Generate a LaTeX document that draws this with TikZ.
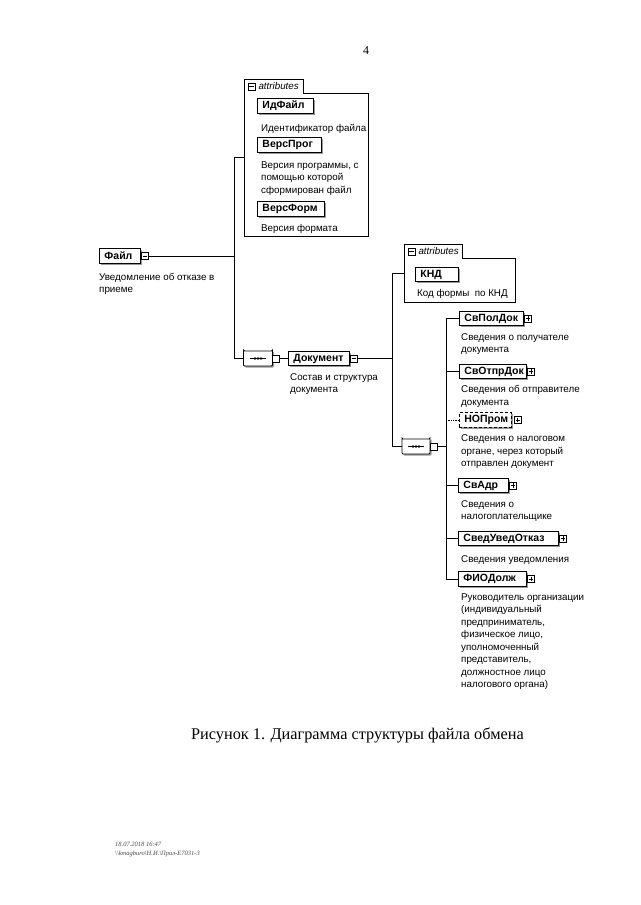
\documentclass[tikz,border=0pt]{standalone}
\usepackage{fontspec}
\setmainfont{Liberation Sans}
\newfontfamily\serif{Liberation Serif}
\usetikzlibrary{shapes.misc,shadows,calc}
\begin{document}
\begin{tikzpicture}[x=1pt,y=-1pt,
  conn/.style={line width=0.8pt},
  elem/.style={draw, line width=0.9pt, fill=white, font=\fontsize{10.5}{12}\bfseries\selectfont,
    minimum height=14.5pt, inner xsep=5pt, inner ysep=0pt, anchor=west, align=left,
    drop shadow={shadow xshift=1.6pt, shadow yshift=-1.6pt, fill=black!40, opacity=1}},
  bw/.style={text width=#1},
  optelem/.style={elem, densely dashed, line width=0.7pt},
  desc/.style={anchor=north west, yshift=8.75pt, align=left, inner sep=0pt,
    font=\fontsize{9.8}{12.5}\selectfont, execute at begin node=\strut},
  sq/.style={draw, line width=0.6pt, fill=white, minimum size=7pt, inner sep=0pt},
  pbox/.style={sq, path picture={
     \draw[line width=0.6pt] ([xshift=1.3pt]path picture bounding box.west) -- ([xshift=-1.3pt]path picture bounding box.east);
     \draw[line width=0.6pt] ([yshift=-1.3pt]path picture bounding box.north) -- ([yshift=1.3pt]path picture bounding box.south);}},
  mbox/.style={sq, path picture={
     \draw[line width=0.6pt] ([xshift=1.3pt]path picture bounding box.west) -- ([xshift=-1.3pt]path picture bounding box.east);}},
  seq/.style={chamfered rectangle, chamfered rectangle xsep=3.5pt, chamfered rectangle ysep=3.5pt,
    draw, line width=0.9pt, fill=white, rounded corners=1pt, minimum height=15pt, inner sep=0pt,
    drop shadow={shadow xshift=1.6pt, shadow yshift=-1.6pt, fill=black!40, opacity=1}},
  attrtab/.style={anchor=west, inner sep=0pt, font=\fontsize{9.8}{10}\itshape\selectfont},
  attrline/.style={line width=0.8pt}
]
\useasboundingbox[fill=white] (0,0) rectangle (640,905);

% page number
\node[font=\serif\fontsize{12}{14}\selectfont] (pagenum) at (366,51) {4};

% ---------- attributes box 1 ----------
\node[minimum width=124pt, minimum height=143pt, anchor=north west, inner sep=0pt] (attr1) at (244,93) {};
\node[minimum width=59pt, minimum height=13pt, anchor=south west, inner sep=0pt] (attr1tab) at (attr1.north west) {};
\draw[attrline] (attr1.south west) -- (attr1tab.north west) -- (attr1tab.north east) -- (attr1tab.south east)
  -- (attr1.north east) -- (attr1.south east) -- cycle;
\node[mbox] (attr1m) at ($(attr1tab.west)+(7.5,0)$) {};
\node[attrtab] (attr1lbl) at ($(attr1m.east)+(3,0)$) {attributes};

\node[elem, bw=46pt] (idfile) at (257,106) {ИдФайл};
\node[desc] (idfiled) at (261,131.5) {Идентификатор файла};
\node[elem, bw=54pt] (versprog) at (257,145) {ВерсПрог};
\node[desc] (versprogd) at (261,170) {Версия программы, с\\помощью которой\\сформирован файл};
\node[elem, bw=57pt] (versform) at (257,209) {ВерсФорм};
\node[desc] (versformd) at (261,231) {Версия формата};

% ---------- root ----------
\node[elem, bw=31pt] (file) at (99,256) {Файл};
\node[mbox] (filem) at ($(file.east)+(4,0)$) {};
\node[desc] (filed) at (99,281.5) {Уведомление об отказе в\\приеме};

% ---------- sequence 1 ----------
\node[seq, minimum width=29pt] (seq1) at (258,358.5) {};
\draw[line width=0.9pt] ($(seq1)+(-8,0)$) -- ($(seq1)+(8,0)$);
\foreach \d in {-3,0,3} \fill ($(seq1)+(\d,0)$) circle (1.3pt);
\node[sq, anchor=west] (seq1m) at ($(seq1.east)+(-0.5,0)$) {};

\coordinate (t1top) at (234,157);
\coordinate (t1bot) at (234,358.5);
\draw[conn] (filem.east) -- (filem.east -| t1top);
\draw[conn] (attr1.west |- t1top) -- (t1top) -- (t1bot) -- (seq1.west);

% ---------- Документ ----------
\node[elem, bw=51pt] (doc) at (288,358.5) {Документ};
\node[mbox] (docm) at ($(doc.east)+(4,0)$) {};
\node[desc] (docd) at (290,382) {Состав и структура\\документа};
\draw[conn] (seq1m.east) -- (doc.west);

% ---------- attributes box 2 ----------
\node[minimum width=111pt, minimum height=44pt, anchor=north west, inner sep=0pt] (attr2) at (404,258) {};
\node[minimum width=58pt, minimum height=13pt, anchor=south west, inner sep=0pt] (attr2tab) at (attr2.north west) {};
\draw[attrline] (attr2.south west) -- (attr2tab.north west) -- (attr2tab.north east) -- (attr2tab.south east)
  -- (attr2.north east) -- (attr2.south east) -- cycle;
\node[mbox] (attr2m) at ($(attr2tab.west)+(7.5,0)$) {};
\node[attrtab] (attr2lbl) at ($(attr2m.east)+(3,0)$) {attributes};
\node[elem, bw=33pt] (knd) at (415,274.5) {КНД};
\node[desc] (kndd) at (417,296) {Код формы\ \ по КНД};

% ---------- sequence 2 ----------
\node[seq, minimum width=28pt] (seq2) at (416,446.5) {};
\draw[line width=0.9pt] ($(seq2)+(-8,0)$) -- ($(seq2)+(8,0)$);
\foreach \d in {-3,0,3} \fill ($(seq2)+(\d,0)$) circle (1.3pt);
\node[sq, anchor=west] (seq2m) at ($(seq2.east)+(-0.5,0)$) {};

\coordinate (t2top) at (392,273.5);
\coordinate (t2bot) at (392,446.5);
\draw[conn] (docm.east) -- (docm.east -| t2top);
\draw[conn] (attr2.west |- t2top) -- (t2top) -- (t2bot) -- (seq2.west);

\coordinate (t3top) at (446,318.5);
\coordinate (t3bot) at (446,579);
\draw[conn] (seq2m.east) -- (seq2m.east -| t3top);
\draw[conn] (t3top) -- (t3bot);

% ---------- children ----------
\node[elem, bw=54pt] (svpol) at (459,318.5) {СвПолДок};
\node[pbox] (svpolp) at ($(svpol.east)+(4,0)$) {};
\node[desc] (svpold) at (461,342) {Сведения о получателе\\документа};

\node[elem, bw=57pt] (svotpr) at (459,371.5) {СвОтпрДок};
\node[pbox] (svotprp) at ($(svotpr.east)+(4,0)$) {};
\node[desc] (svotprd) at (461,394) {Сведения об отправителе\\документа};

\node[optelem, bw=42pt] (nop) at (459,420) {НОПром};
\node[pbox] (nopp) at ($(nop.east)+(6,0)$) {};
\node[desc] (nopd) at (461,443.5) {Сведения о налоговом\\органе, через который\\отправлен документ};

\node[elem, bw=40pt] (svadr) at (458,485.5) {СвАдр};
\node[pbox] (svadrp) at ($(svadr.east)+(4,0)$) {};
\node[desc] (svadrd) at (461,509) {Сведения о\\налогоплательщике};

\node[elem, bw=90pt] (sveduv) at (458,538.5) {СведУведОтказ};
\node[pbox] (sveduvp) at ($(sveduv.east)+(4,0)$) {};
\node[desc] (sveduvd) at (461,562) {Сведения уведомления};

\node[elem, bw=58pt] (fio) at (458,579) {ФИОДолж};
\node[pbox] (fiop) at ($(fio.east)+(4,0)$) {};
\node[desc] (fiod) at (461,602) {Руководитель организации\\(индивидуальный\\предприниматель,\\физическое лицо,\\уполномоченный\\представитель,\\должностное лицо\\налогового органа)};

\foreach \n in {svpol, svotpr, svadr, sveduv, fio}
  \draw[conn] (\n.west -| t3top) -- (\n.west);
\draw[line width=0.7pt, densely dotted] (nop.west -| t3top) -- (nop.west);

% ---------- caption and footer ----------
\node[font=\serif\fontsize{16.3}{18}\selectfont] (caption) at (357.5,735) {Рисунок 1. Диаграмма структуры файла обмена};
\node[anchor=base west, align=left, inner sep=0pt, text=black!70, font=\serif\itshape\fontsize{6.5}{8.5}\selectfont] (footer) at (115,855)
  {18.07.2018 16:47\\\textbackslash\textbackslash kmagburo\textbackslash Н.И.\textbackslash Прил-Е7031-3};
\end{tikzpicture}
\end{document}
